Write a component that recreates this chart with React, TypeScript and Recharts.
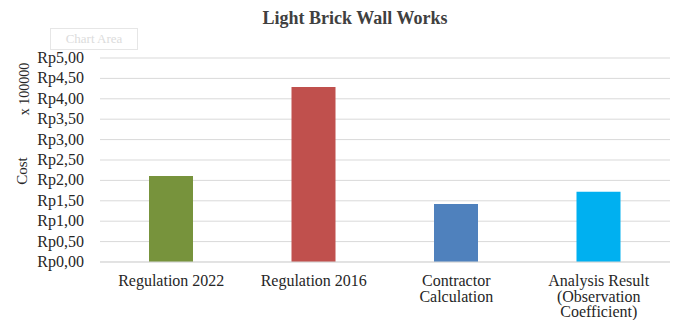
import React from "react";
import { BarChart, Bar, XAxis, YAxis, CartesianGrid, Cell } from "recharts";

const categories = [
  "Regulation 2022",
  "Regulation 2016",
  "Contractor\nCalculation",
  "Analysis Result\n(Observation\nCoefficient)",
];
const costs = [2.11, 4.29, 1.42, 1.72];
const barColors = ["#77933C", "#C0504D", "#4F81BD", "#00B0F0"];
const yTicks = [0, 0.5, 1, 1.5, 2, 2.5, 3, 3.5, 4, 4.5, 5];

const data = categories.map((c, i) => ({ name: c, cost: costs[i] }));

const FONT = "'Times New Roman', 'Liberation Serif', 'DejaVu Serif', serif";

const fmt = (v: number) => "Rp" + v.toFixed(2).replace(".", ",");

const XTick = (props: any) => {
  const { x, y, payload } = props;
  const lines = String(payload.value).split("\n");
  return (
    <g transform={`translate(${x},${y})`}>
      {lines.map((l: string, i: number) => (
        <text
          key={i}
          x={0}
          y={16 + i * 15.5}
          textAnchor="middle"
          style={{ fontFamily: FONT, fontSize: 16 }}
          fill="#262626"
        >
          {l}
        </text>
      ))}
    </g>
  );
};

const YTick = (props: any) => {
  const { y, payload } = props;
  return (
    <text
      x={84}
      y={y}
      dy={5}
      textAnchor="end"
      style={{ fontFamily: FONT, fontSize: 16 }}
      fill="#262626"
    >
      {fmt(payload.value)}
    </text>
  );
};

export default function App() {
  return (
    <div
      style={{
        position: "absolute",
        left: 0,
        top: 0,
        width: 681,
        height: 320,
        background: "#fff",
        fontFamily: FONT,
      }}
    >
      <div
        style={{
          position: "absolute",
          left: 0,
          width: 710,
          top: 8,
          textAlign: "center",
          fontSize: 18,
          fontWeight: "bold",
          color: "#404040",
          fontFamily: FONT,
        }}
      >
        Light Brick Wall Works
      </div>
      <div
        style={{
          position: "absolute",
          left: 50,
          top: 28,
          width: 86,
          height: 20,
          border: "1px solid #e6e6e6",
          color: "#dcdcdc",
          fontSize: 13,
          lineHeight: "20px",
          textAlign: "center",
          fontFamily: FONT,
        }}
      >
        Chart Area
      </div>
      <div
        style={{
          position: "absolute",
          left: 25,
          top: 89,
          transform: "translate(-50%, -50%) rotate(-90deg)",
          fontSize: 14,
          color: "#262626",
          whiteSpace: "nowrap",
          fontFamily: FONT,
        }}
      >
        x 100000
      </div>
      <div
        style={{
          position: "absolute",
          left: 22,
          top: 171,
          transform: "translate(-50%, -50%) rotate(-90deg)",
          fontSize: 15,
          color: "#262626",
          whiteSpace: "nowrap",
          fontFamily: FONT,
        }}
      >
        Cost
      </div>
      <BarChart
        width={681}
        height={320}
        data={data}
        margin={{ top: 58, right: 11, bottom: 0, left: 0 }}
      >
        <CartesianGrid vertical={false} stroke="#d9d9d9" />
        <XAxis
          dataKey="name"
          tick={<XTick />}
          tickLine={false}
          axisLine={{ stroke: "#d9d9d9" }}
          height={58}
          interval={0}
        />
        <YAxis
          width={100}
          domain={[0, 5]}
          ticks={yTicks}
          tick={<YTick />}
          tickLine={false}
          axisLine={false}
          interval={0}
        />
        <Bar dataKey="cost" barSize={44} isAnimationActive={false}>
          {data.map((d, i) => (
            <Cell key={i} fill={barColors[i]} />
          ))}
        </Bar>
      </BarChart>
    </div>
  );
}
